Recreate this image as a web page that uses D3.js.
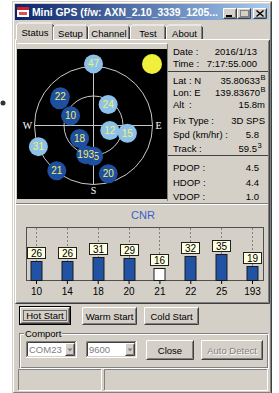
<!DOCTYPE html>
<html>
<head>
<meta charset="utf-8">
<script src="https://cdn.jsdelivr.net/npm/d3@7"></script>
<style>
html, body { margin: 0; padding: 0; background: #fff; overflow: hidden; }
svg { display: block; font-family: "Liberation Sans", Arial, sans-serif; }
</style>
</head>
<body>
<div id="myDiv"></div>
<script>
// sky plot satellites (elevation deg, azimuth deg)
var skyPrn  = ["47", "14", "22", "10", "24", "12", "15", "18", "25", "193", "31", "21", "20"];
var skyElev = [-4, 25, 23, 52, 51, 64, 37, 61, 43, 44, 0, 1, 13];
var skyAzim = [0, 307, 311, 293, 35, 107, 103, 227, 180, 195, 249, 219, 163];
var skyUsed = [false, true, true, true, false, false, false, true, true, true, false, true, true];

// CNR bars
var cnrPrn = ["10", "14", "18", "20", "21", "22", "25", "193"];
var cnrValue = [26, 26, 31, 29, 16, 32, 35, 19];
var cnrFilled = [true, true, true, true, false, true, true, true];

// info panel
var infoLabels = ["Date :", "Time :", "Lat", "Lon", "Alt", "Fix Type :", "Spd (km/hr) :", "Track :", "PDOP :", "HDOP :", "VDOP :"];
var infoMid = ["", "", ": N", ": E", ":", "", "", "", "", "", ""];
var infoValues = ["2016/1/13", "7:17:55.000", "35.80633", "139.83670", "15.8m", "3D SPS", "5.8", "59.5", "4.5", "4.4", "1.0"];
var infoSup = ["", "", "B", "B", "", "", "", "3", "", "", ""];

var tabNames = ["Status", "Setup", "Channel", "Test", "About"];

var width = 279;
var height = 393;
var face = "#d4d0c8";

var svg = d3.select("#myDiv")
    .append("svg")
    .attr("width", width)
    .attr("height", height);

// bevel helpers
function frame(g, x, y, w, h, tl, br) {
    g.append("path")
        .attr("d", "M" + (x + 0.5) + "," + (y + h - 1) + "V" + (y + 0.5) + "H" + (x + w - 1))
        .attr("fill", "none").attr("stroke", tl);
    g.append("path")
        .attr("d", "M" + (x + 0.5) + "," + (y + h - 0.5) + "H" + (x + w - 0.5) + "V" + (y + 0.5))
        .attr("fill", "none").attr("stroke", br);
}
function raised(g, x, y, w, h) {
    g.append("rect").attr("x", x).attr("y", y).attr("width", w).attr("height", h).attr("fill", face);
    frame(g, x, y, w, h, "#fff", "#404040");
    frame(g, x + 1, y + 1, w - 2, h - 2, face, "#808080");
}
function sunken(g, x, y, w, h, fill) {
    g.append("rect").attr("x", x).attr("y", y).attr("width", w).attr("height", h).attr("fill", fill);
    frame(g, x, y, w, h, "#808080", "#fff");
    frame(g, x + 1, y + 1, w - 2, h - 2, "#404040", face);
}
function label(g, x, y, txt, anchor, color, size) {
    return g.append("text").attr("x", x).attr("y", y)
        .attr("text-anchor", anchor || "start")
        .attr("font-size", size || 10)
        .attr("fill", color || "#000")
        .text(txt);
}
function button(g, x, y, w, h, txt, opts) {
    opts = opts || {};
    if (opts.isDefault) {
        g.append("rect").attr("x", x + 0.5).attr("y", y + 0.5).attr("width", w - 1).attr("height", h - 1)
            .attr("fill", face).attr("stroke", "#000");
        raised(g, x + 1, y + 1, w - 2, h - 2);
        g.append("rect").attr("x", x + 4.5).attr("y", y + 4.5).attr("width", w - 9).attr("height", h - 9)
            .attr("fill", "none").attr("stroke", "#000").attr("stroke-dasharray", "1,1");
    } else {
        raised(g, x, y, w, h);
    }
    if (opts.disabled) {
        label(g, x + w / 2 + 1, y + h / 2 + 4.5, txt, "middle", "#fff", 9.5);
        label(g, x + w / 2, y + h / 2 + 3.5, txt, "middle", "#808080", 9.5);
    } else {
        label(g, x + w / 2, y + h / 2 + 3.5, txt, "middle", "#000", 9.5);
    }
}
function combo(g, x, y, w, h, txt) {
    sunken(g, x, y, w, h, "#fff");
    raised(g, x + w - 12, y + 2, 10, h - 4);
    g.append("path")
        .attr("d", "M" + (x + w - 9.5) + "," + (y + h / 2 - 1) + "h5l-2.5,3z")
        .attr("fill", "#808080");
    label(g, x + 3, y + h / 2 + 3.5, txt, "start", "#808080", 9.5);
}

// stray bullet outside the window
svg.append("circle").attr("cx", 3).attr("cy", 103).attr("r", 2.5).attr("fill", "#333");

// window
var win = svg.append("g");
win.append("rect").attr("x", 12).attr("y", 1).attr("width", 260).attr("height", 393).attr("fill", face);
frame(win, 12, 1, 260, 393, face, "#404040");
frame(win, 13, 2, 258, 391, "#fff", "#808080");

// title bar
var grad = svg.append("defs").append("linearGradient").attr("id", "tb");
grad.append("stop").attr("offset", "0%").attr("stop-color", "#0a246a");
grad.append("stop").attr("offset", "100%").attr("stop-color", "#a6caf0");
win.append("rect").attr("x", 15).attr("y", 4).attr("width", 254).attr("height", 16).attr("fill", "url(#tb)");

// icon
win.append("rect").attr("x", 17).attr("y", 7).attr("width", 12).attr("height", 10).attr("fill", "#fff");
win.append("rect").attr("x", 17).attr("y", 7).attr("width", 12).attr("height", 3).attr("fill", "#d02020");
win.append("rect").attr("x", 19).attr("y", 12).attr("width", 8).attr("height", 3).attr("fill", "#e05050");

win.append("text")
    .attr("x", 32).attr("y", 16)
    .attr("font-size", 10).attr("font-weight", "bold").attr("fill", "#fff")
    .attr("textLength", 186).attr("lengthAdjust", "spacingAndGlyphs")
    .text("Mini GPS (f/w: AXN_2.10_3339_1205...");

// caption buttons
raised(win, 223, 8, 14, 11);
win.append("rect").attr("x", 226).attr("y", 15).attr("width", 6).attr("height", 2).attr("fill", "#000");
raised(win, 237, 8, 14, 11);
win.append("rect").attr("x", 240.5).attr("y", 10.5).attr("width", 8).attr("height", 6)
    .attr("fill", "none").attr("stroke", "#808080");
raised(win, 253, 8, 14, 11);
win.append("path").attr("d", "M256.5,10.5l7,6M263.5,10.5l-7,6").attr("stroke", "#000").attr("stroke-width", 1.5);

// tabs
var tabX = [17, 53, 88, 130, 166, 203];
var tabs = win.append("g");
tabNames.forEach(function(t, i) {
    var x0 = tabX[i], x1 = tabX[i + 1];
    var top = i === 0 ? 23 : 25;
    if (i === 0) { x0 -= 1; x1 += 1; }
    tabs.append("path").attr("d", "M" + (x0 + 0.5) + ",40V" + (top + 2) + "l2,-2H" + (x1 - 2))
        .attr("fill", "none").attr("stroke", "#fff");
    tabs.append("path").attr("d", "M" + (x1 - 1.5) + "," + (top + 1) + "V40")
        .attr("fill", "none").attr("stroke", "#808080");
    tabs.append("path").attr("d", "M" + (x1 - 0.5) + "," + (top + 2) + "V40")
        .attr("fill", "none").attr("stroke", "#404040");
    label(tabs, (tabX[i] + tabX[i + 1]) / 2, i === 0 ? 36 : 37, t, "middle", "#000", 9.5);
});

// tab page frame
win.append("path").attr("d", "M15.5,303V39.5H16M53,39.5H269").attr("fill", "none").attr("stroke", "#fff");
win.append("path").attr("d", "M15.5,303.5H269.5V40").attr("fill", "none").attr("stroke", "#404040");
win.append("path").attr("d", "M16.5,302.5H268.5V41").attr("fill", "none").attr("stroke", "#808080");

// sky plot
var sky = win.append("g");
sky.append("path").attr("d", "M17,43.5H167").attr("stroke", "#fff");
sky.append("rect").attr("x", 17).attr("y", 49).attr("width", 150).attr("height", 150).attr("fill", "#000");

var cx = 93.5, cy = 125.5, R = 59;
var rScale = d3.scaleLinear().domain([90, 0]).range([0, R]);
var rad = d3.scaleLinear().domain([0, 360]).range([0, 2 * Math.PI]);

sky.append("circle").attr("cx", cx).attr("cy", cy).attr("r", rScale(0))
    .attr("fill", "none").attr("stroke", "#c8c8c8");
sky.append("circle").attr("cx", cx).attr("cy", cy).attr("r", rScale(45))
    .attr("fill", "none").attr("stroke", "#c8c8c8");
sky.append("line").attr("x1", cx - R).attr("x2", cx + R).attr("y1", cy).attr("y2", cy).attr("stroke", "#c8c8c8");
sky.append("line").attr("x1", cx).attr("x2", cx).attr("y1", cy - R).attr("y2", cy + R).attr("stroke", "#c8c8c8");

sky.append("text").attr("x", cx - R - 7).attr("y", cy + 3.5).attr("text-anchor", "middle")
    .attr("font-family", "Liberation Serif, serif").attr("font-size", 10).attr("fill", "#fff").text("W");
sky.append("text").attr("x", cx + R + 6).attr("y", cy + 3.5).attr("text-anchor", "middle")
    .attr("font-family", "Liberation Serif, serif").attr("font-size", 10).attr("fill", "#fff").text("E");
sky.append("text").attr("x", cx).attr("y", cy + R + 9).attr("text-anchor", "middle")
    .attr("font-family", "Liberation Serif, serif").attr("font-size", 10).attr("fill", "#fff").text("S");

// sun indicator in the corner
sky.append("circle").attr("cx", 152).attr("cy", 64).attr("r", 10).attr("fill", "#f0f03c");

var sats = skyPrn.map(function(p, i) {
    var r = rScale(skyElev[i]);
    return {
        prn: p,
        used: skyUsed[i],
        x: cx + r * Math.sin(rad(skyAzim[i])),
        y: cy - r * Math.cos(rad(skyAzim[i]))
    };
});
var satG = sky.selectAll("g.sat").data(sats).enter().append("g").attr("class", "sat");
satG.append("circle")
    .attr("cx", d => d.x).attr("cy", d => d.y).attr("r", 9.5)
    .attr("fill", d => d.used ? "#1f4f9f" : "#8cc2ea");
satG.append("text")
    .attr("x", d => d.x).attr("y", d => d.y + 3.5)
    .attr("text-anchor", "middle").attr("font-size", 10)
    .attr("fill", "#f0f070")
    .text(d => d.prn);

// info panel
var info = win.append("g");
info.append("path").attr("d", "M167.5,44V201").attr("stroke", "#808080");
info.append("path").attr("d", "M168,71.5H268").attr("stroke", "#404040");
info.append("path").attr("d", "M168,155.5H268").attr("stroke", "#404040");
var rowY = [55, 67, 84, 96, 108, 124, 138, 152, 171, 186, 200];
var valRight = [257, 257, 260, 260, 265, 265, 259, 257, 259, 259, 259];
infoLabels.forEach(function(t, i) {
    label(info, 173, rowY[i], t, "start", "#000", 9.5);
    if (infoMid[i]) label(info, 189, rowY[i], infoMid[i], "start", "#000", 9.5);
    label(info, valRight[i], rowY[i], infoValues[i], "end", "#000", 9.5);
    if (infoSup[i]) {
        info.append("text").attr("x", valRight[i] + 0.5).attr("y", rowY[i] - 4)
            .attr("font-size", 7.5).text(infoSup[i]);
    }
});

// CNR panel
var cnr = win.append("g");
cnr.append("path").attr("d", "M16,203.5H268").attr("stroke", "#808080");
cnr.append("path").attr("d", "M16,204.5H268").attr("stroke", "#fff");
cnr.append("text").attr("x", 143).attr("y", 219).attr("text-anchor", "middle")
    .attr("font-size", 11).attr("fill", "#3860c8").text("CNR");

var box = { x: 26, y: 227, w: 237, h: 53 };
var x = d3.scalePoint().domain(cnrPrn).range([36, 252]);
var y = d3.scaleLinear().domain([0, 71]).range([box.y + box.h, box.y]);

cnr.append("rect").attr("x", box.x + 0.5).attr("y", box.y + 0.5).attr("width", box.w).attr("height", box.h)
    .attr("fill", face).attr("stroke", "#505050");

cnr.selectAll("line.grid").data(cnrPrn).enter().append("line")
    .attr("class", "grid")
    .attr("x1", d => Math.round(x(d)) + 0.5).attr("x2", d => Math.round(x(d)) + 0.5)
    .attr("y1", box.y + 1).attr("y2", box.y + box.h)
    .attr("stroke", "#808080").attr("stroke-dasharray", "2,2");

var bars = cnrPrn.map(function(p, i) { return { prn: p, v: cnrValue[i], filled: cnrFilled[i] }; });
cnr.selectAll("rect.bar").data(bars).enter().append("rect")
    .attr("class", "bar")
    .attr("x", d => Math.round(x(d.prn)) - 5)
    .attr("y", d => Math.round(y(d.v)) + 0.5)
    .attr("width", 11)
    .attr("height", d => box.y + box.h - Math.round(y(d.v)))
    .attr("fill", d => d.filled ? "#2152a3" : "#fff")
    .attr("stroke", "#1a1a1a");

var tags = cnr.selectAll("g.tag").data(bars).enter().append("g").attr("class", "tag");
tags.append("rect")
    .attr("x", d => Math.round(x(d.prn)) - 8.5)
    .attr("y", d => Math.round(y(d.v)) - 13.5)
    .attr("width", 18).attr("height", 11)
    .attr("fill", "#ffffe1").attr("stroke", "#202020");
tags.append("text")
    .attr("x", d => Math.round(x(d.prn)) + 0.5)
    .attr("y", d => Math.round(y(d.v)) - 4.5)
    .attr("text-anchor", "middle").attr("font-size", 10)
    .text(d => d.v);

var xAxis = cnr.append("g")
    .attr("transform", "translate(0," + (box.y + box.h + 1) + ")")
    .call(d3.axisBottom(x).tickSize(3).tickPadding(4));
xAxis.select(".domain").remove();
xAxis.selectAll("text").attr("font-size", 10).attr("font-family", "Liberation Sans, Arial, sans-serif");

// buttons
var bot = win.append("g");
button(bot, 19, 306, 52, 19, "Hot Start", { isDefault: true });
button(bot, 82, 307, 55, 18, "Warm Start");
button(bot, 144, 307, 55, 18, "Cold Start");

// comport group box
bot.append("rect").attr("x", 19.5).attr("y", 333.5).attr("width", 248).attr("height", 34)
    .attr("fill", "none").attr("stroke", "#808080");
bot.append("rect").attr("x", 20.5).attr("y", 334.5).attr("width", 248).attr("height", 34)
    .attr("fill", "none").attr("stroke", "#fff");
bot.append("rect").attr("x", 24).attr("y", 328).attr("width", 38).attr("height", 10).attr("fill", face);
label(bot, 25, 337, "Comport", "start", "#000", 9.5);

combo(bot, 26, 341, 51, 17, "COM23");
combo(bot, 86, 341, 51, 17, "9600");
button(bot, 146, 340, 48, 20, "Close");
button(bot, 201, 340, 62, 20, "Auto Detect", { disabled: true });

// status bar
var sb = win.append("g");
frame(sb, 18, 369, 84, 22, "#808080", "#fff");
frame(sb, 104, 369, 164, 22, "#808080", "#fff");
</script>
</body>
</html>
